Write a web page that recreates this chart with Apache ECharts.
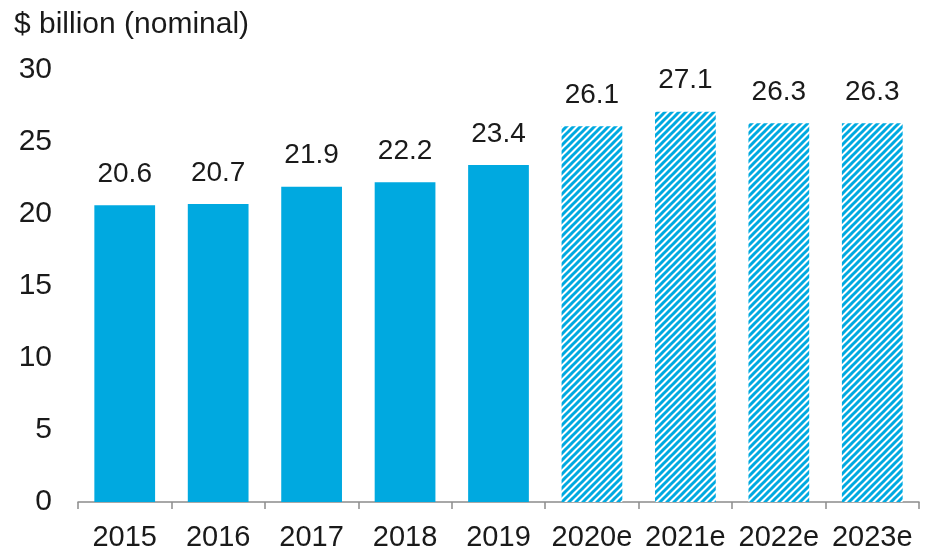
<!DOCTYPE html>
<html>
<head>
<meta charset="utf-8">
<script src="https://cdn.jsdelivr.net/npm/echarts@6/dist/echarts.min.js"></script>
<style>
  html, body { margin: 0; padding: 0; background: #fff; }
  #chart { width: 930px; height: 553px; }
</style>
</head>
<body>
<div id="chart"></div>
<script>
const categories = ['2015', '2016', '2017', '2018', '2019', '2020e', '2021e', '2022e', '2023e'];
const values = [20.6, 20.7, 21.9, 22.2, 23.4, 26.1, 27.1, 26.3, 26.3];
const isEstimate = [false, false, false, false, false, true, true, true, true];
const yTicks = [0, 5, 10, 15, 20, 25, 30];

const BLUE = '#00A9E0';
const FONT = 'Liberation Sans, Arial, sans-serif';

// Diagonal stripe tile for forecast bars
function stripePattern() {
  const size = 7;
  const c = document.createElement('canvas');
  c.width = size; c.height = size;
  const ctx = c.getContext('2d');
  ctx.fillStyle = '#ffffff';
  ctx.fillRect(0, 0, size, size);
  ctx.strokeStyle = BLUE;
  ctx.lineWidth = 3;
  ctx.beginPath();
  for (let k = -1; k <= 1; k++) {
    ctx.moveTo(k * size - 1, size + 1);
    ctx.lineTo(k * size + size + 1, -1);
  }
  ctx.stroke();
  return c;
}
const hatch = { image: stripePattern(), repeat: 'repeat' };

const chart = echarts.init(document.getElementById('chart'), null, { renderer: 'canvas' });
chart.setOption({
  animation: false,
  backgroundColor: '#ffffff',
  textStyle: { fontFamily: FONT },
  title: {
    text: '$ billion (nominal)',
    left: 9, top: 5,
    textStyle: { fontSize: 30, fontWeight: 'normal', color: '#1a1a1a', fontFamily: FONT }
  },
  grid: { left: 78, right: 11, top: 70, bottom: 51 },
  xAxis: {
    type: 'category',
    data: categories,
    boundaryGap: true,
    axisLine: { show: true, lineStyle: { color: '#8c8c8c', width: 1.5 } },
    axisTick: { show: true, alignWithLabel: false, length: 7, lineStyle: { color: '#8c8c8c', width: 1.5 } },
    axisLabel: { fontSize: 29, color: '#1a1a1a', margin: 21, interval: 0 }
  },
  yAxis: {
    type: 'value',
    min: yTicks[0],
    max: yTicks[yTicks.length - 1],
    interval: yTicks[1] - yTicks[0],
    axisLine: { show: false },
    axisTick: { show: false },
    splitLine: { show: false },
    axisLabel: { fontSize: 30, color: '#1a1a1a', margin: 26 }
  },
  series: [{
    type: 'bar',
    barWidth: '65%',
    data: values.map((v, i) => ({
      value: v,
      itemStyle: { color: isEstimate[i] ? hatch : BLUE }
    })),
    label: {
      show: true,
      position: 'top',
      distance: 17,
      fontSize: 28,
      color: '#1a1a1a',
      formatter: p => p.value.toFixed(1)
    }
  }]
});
</script>
</body>
</html>
